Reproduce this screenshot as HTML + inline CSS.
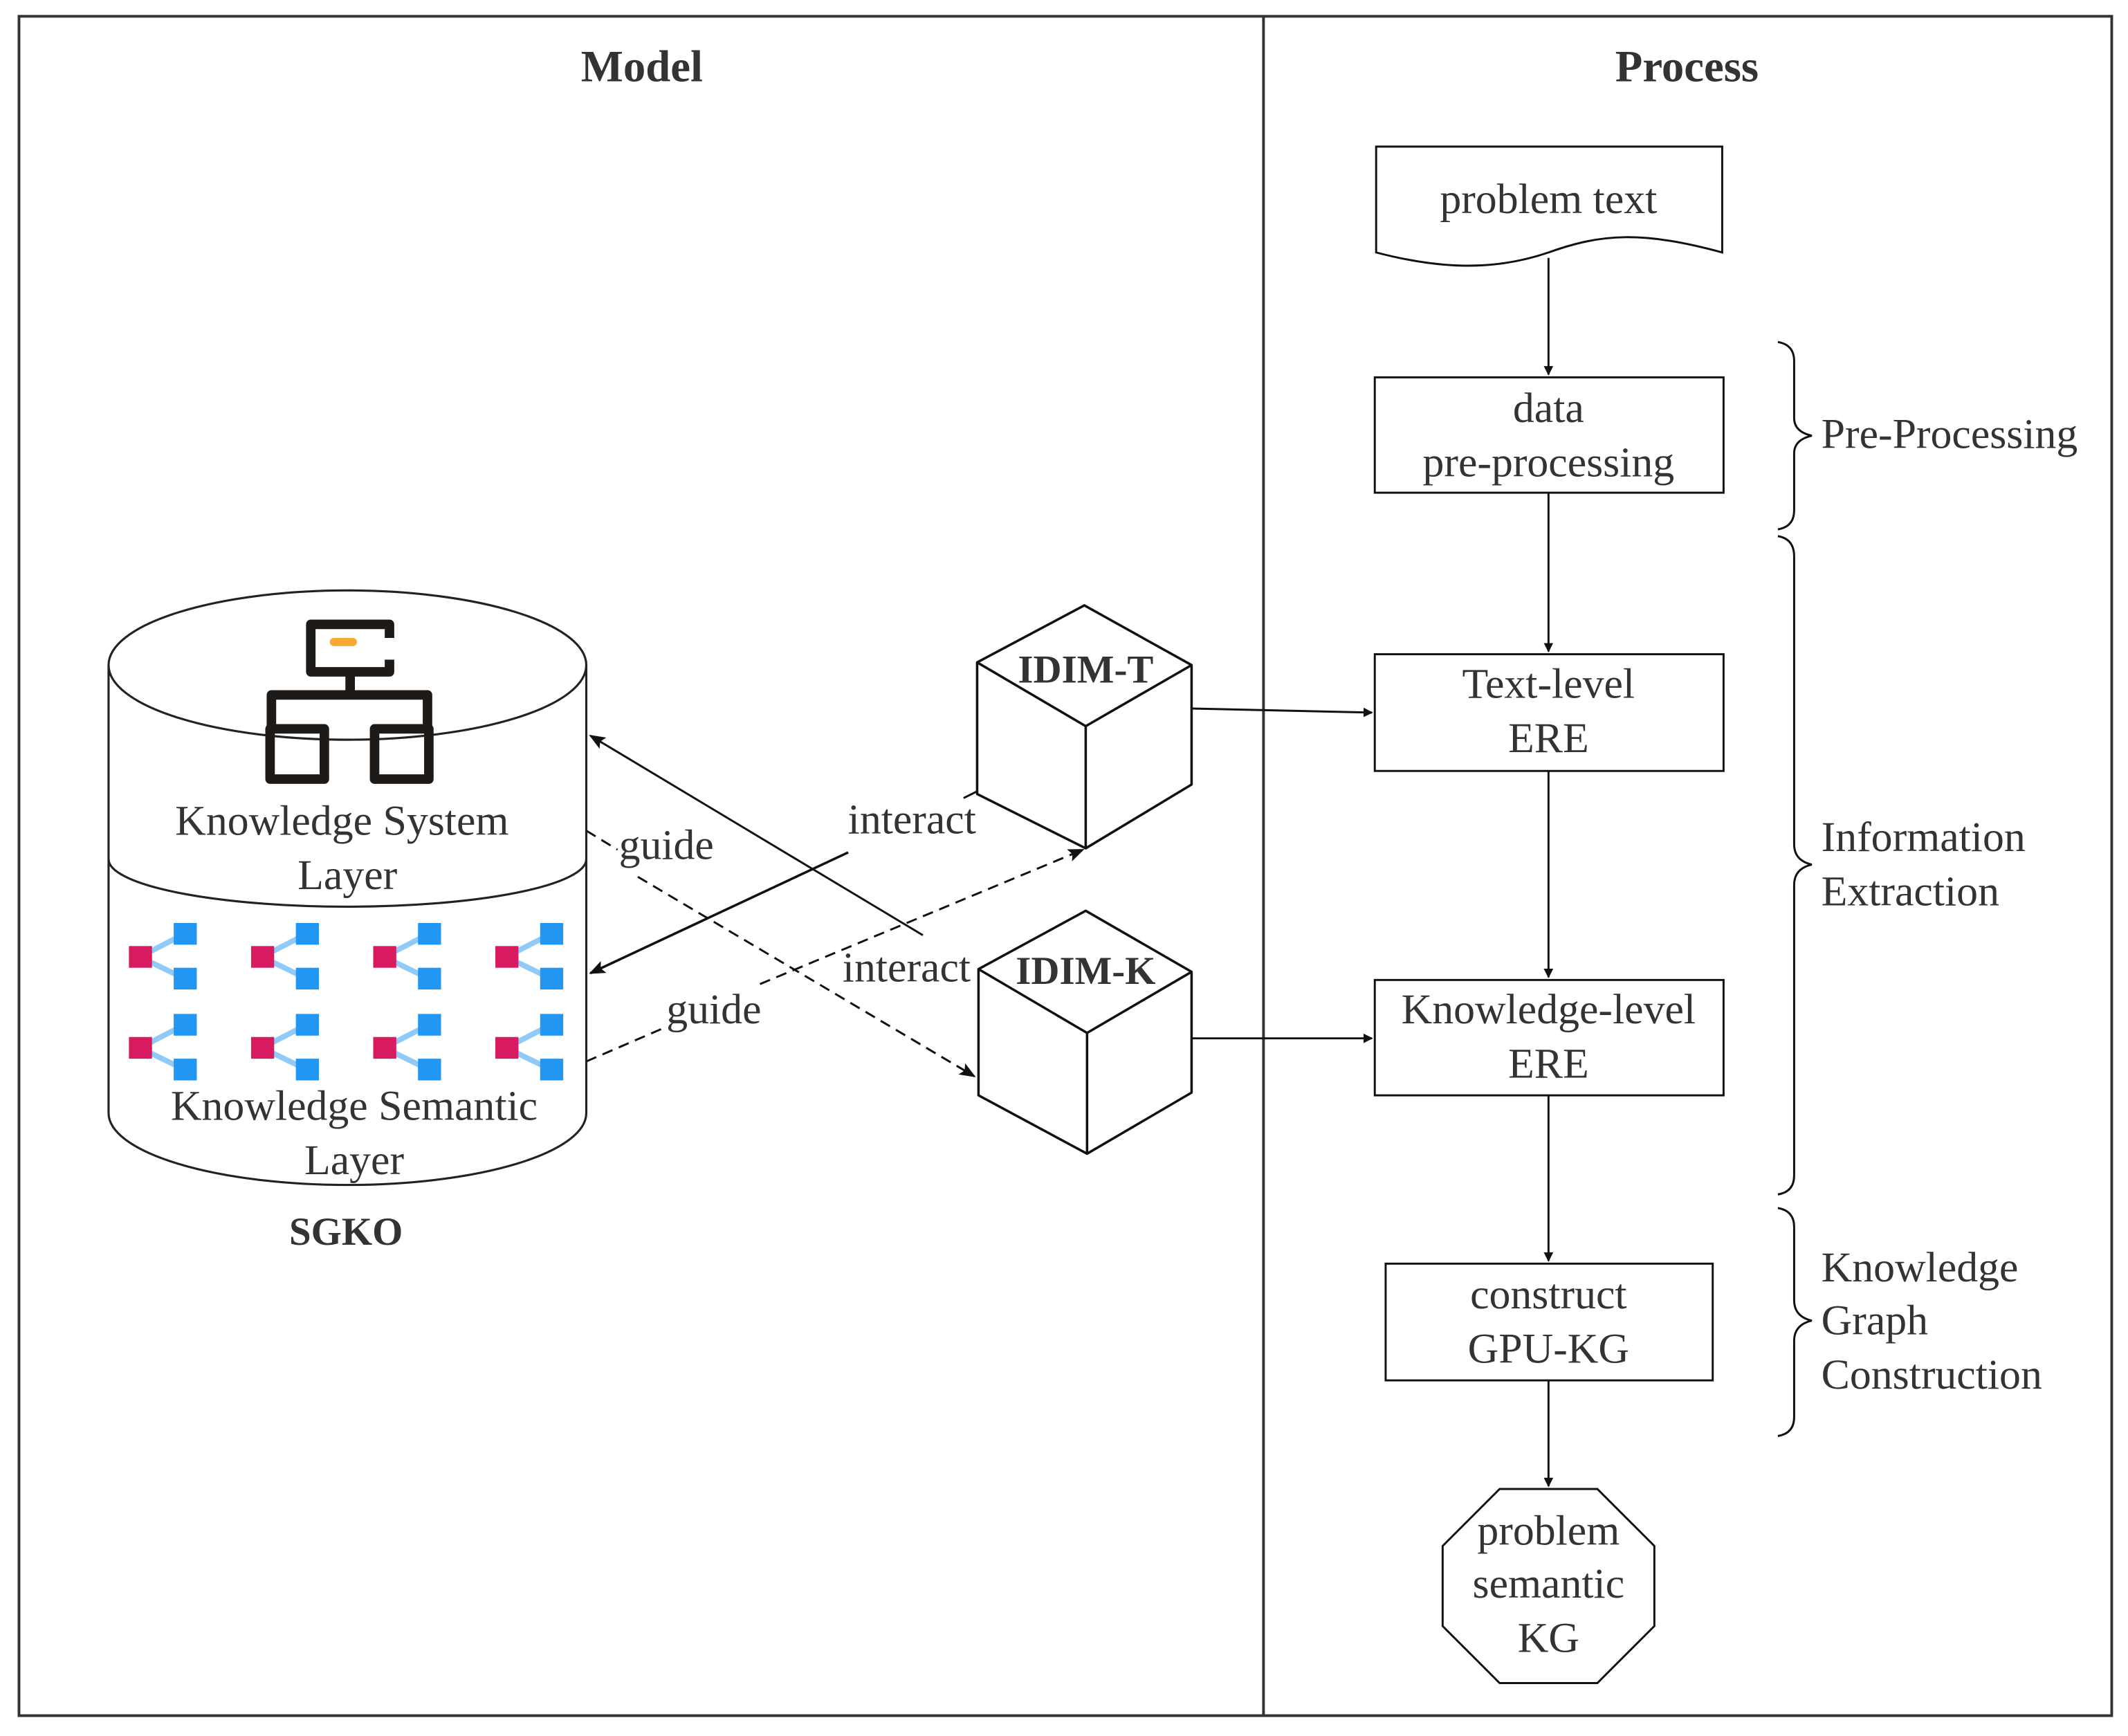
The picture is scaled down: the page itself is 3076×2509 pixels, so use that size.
<!DOCTYPE html>
<html><head><meta charset="utf-8"><style>
html,body{margin:0;padding:0;background:#fff;}
svg{display:block;}
svg text{font-family:"Liberation Serif","DejaVu Serif","Times New Roman",serif;fill:#333;}
</style></head><body>
<svg width="3076" height="2509" viewBox="0 0 1568 1279" preserveAspectRatio="none" xmlns="http://www.w3.org/2000/svg" font-family="Liberation Serif, DejaVu Serif, serif">
<defs>
<marker id="a" viewBox="0 0 10 10" refX="9" refY="5" markerWidth="7" markerHeight="7" markerUnits="userSpaceOnUse" orient="auto">
<path d="M0,0 L10,5 L0,10 z" fill="#111"/></marker>
<marker id="b" viewBox="0 0 10 10" refX="9" refY="5" markerWidth="12" markerHeight="12" markerUnits="userSpaceOnUse" orient="auto">
<path d="M0,1 L10,5 L0,9 L2,5 z" fill="#111"/></marker>
</defs>
<rect x="14" y="12" width="1542" height="1252" fill="none" stroke="#333" stroke-width="2"/>
<line x1="931" y1="12" x2="931" y2="1264" stroke="#333" stroke-width="2"/>
<text x="473" y="60" font-size="33" font-weight="bold" text-anchor="middle">Model</text>
<text x="1243" y="60" font-size="33" font-weight="bold" text-anchor="middle">Process</text>

<g fill="none" stroke="#111" stroke-width="1.5">
<path d="M1014,108 H1269 V186 C1210,170 1180,172 1141,186 C1100,200 1060,198 1014,186 Z" fill="#fff"/>
<rect x="1013" y="278" width="257" height="85"/>
<rect x="1013" y="482" width="257" height="86"/>
<rect x="1013" y="722" width="257" height="85"/>
<rect x="1021" y="931" width="241" height="86"/>
<polygon points="1105,1097 1177,1097 1219,1139 1219,1198 1177,1240 1105,1240 1063,1198 1063,1139"/>
<line x1="1141" y1="190" x2="1141" y2="276" marker-end="url(#a)"/>
<line x1="1141" y1="363" x2="1141" y2="480" marker-end="url(#a)"/>
<line x1="1141" y1="568" x2="1141" y2="720" marker-end="url(#a)"/>
<line x1="1141" y1="807" x2="1141" y2="929" marker-end="url(#a)"/>
<line x1="1141" y1="1017" x2="1141" y2="1095" marker-end="url(#a)"/>
<path d="M1310,252 Q1322,254 1322,266 V308 Q1322,318 1335,321 Q1322,324 1322,334 V376 Q1322,388 1310,390"/>
<path d="M1310,395 Q1322,397 1322,410 V622 Q1322,634 1335,637 Q1322,640 1322,652 V866 Q1322,878 1310,880"/>
<path d="M1310,890 Q1322,892 1322,904 V958 Q1322,970 1335,973 Q1322,976 1322,988 V1044 Q1322,1056 1310,1058"/>
</g>
<g font-size="31.5" text-anchor="middle">
<text x="1141" y="157">problem text</text>
<text x="1141" y="311">data</text>
<text x="1141" y="351">pre-processing</text>
<text x="1141" y="514">Text-level</text>
<text x="1141" y="554">ERE</text>
<text x="1141" y="754">Knowledge-level</text>
<text x="1141" y="794">ERE</text>
<text x="1141" y="964">construct</text>
<text x="1141" y="1004">GPU-KG</text>
<text x="1141" y="1138">problem</text>
<text x="1141" y="1177">semantic</text>
<text x="1141" y="1217">KG</text>
</g>
<g font-size="31.5">
<text x="1342" y="330">Pre-Processing</text>
<text x="1342" y="627">Information</text>
<text x="1342" y="667">Extraction</text>
<text x="1342" y="944">Knowledge</text>
<text x="1342" y="983">Graph</text>
<text x="1342" y="1023">Construction</text>
</g>

<g fill="none" stroke="#222" stroke-width="1.6">
<path d="M80,490 V820 A176,53 0 0 0 432,820 V490"/>
<ellipse cx="256" cy="490" rx="176" ry="55"/>
<path d="M80,633 A176,35 0 0 0 432,633"/>
</g>
<g fill="none" stroke="#1e1a17" stroke-width="7" stroke-linejoin="round">
<path d="M287,470 V460 H229 V495 H287 V486"/>
<path d="M258,495 V512 M200,537 V512 H315 V537"/>
<rect x="199" y="537" width="40" height="37"/>
<rect x="276" y="537" width="40" height="37"/>
</g>
<line x1="246" y1="473" x2="260" y2="473" stroke="#f7a832" stroke-width="6" stroke-linecap="round"/>
<g id="t">
<path d="M103,705 L136,688 M103,705 L136,721" stroke="#90caf9" stroke-width="4"/>
<rect x="95" y="697" width="17" height="16" fill="#d81b60"/>
<rect x="128" y="680" width="17" height="16" fill="#2196f3"/>
<rect x="128" y="713" width="17" height="16" fill="#2196f3"/>
</g>
<use href="#t" x="90"/><use href="#t" x="180"/><use href="#t" x="270"/>
<use href="#t" y="67"/><use href="#t" x="90" y="67"/><use href="#t" x="180" y="67"/><use href="#t" x="270" y="67"/>
<g font-size="31.5" text-anchor="middle">
<text x="252" y="615">Knowledge System</text>
<text x="256" y="655">Layer</text>
<text x="261" y="825">Knowledge Semantic</text>
<text x="261" y="865">Layer</text>
</g>
<text x="255" y="917" font-size="29" font-weight="bold" text-anchor="middle">SGKO</text>

<g fill="#fff" stroke="#111" stroke-width="1.8" stroke-linejoin="round">
<path d="M799,446 L878,490 L878,578 L800,625 L720,585 L720,488 Z"/>
<path d="M720,488 L800,535 L878,490 M800,535 V625" fill="none"/>
<path d="M800,671 L878,716 L878,805 L801,850 L721,807 L721,714 Z"/>
<path d="M721,714 L801,761 L878,716 M801,761 V850" fill="none"/>
</g>
<text x="800" y="503" font-size="29" font-weight="bold" text-anchor="middle">IDIM-T</text>
<text x="800" y="725" font-size="29" font-weight="bold" text-anchor="middle">IDIM-K</text>
<g stroke="#111" stroke-width="1.5" fill="none">
<line x1="878" y1="522" x2="1011" y2="525" marker-end="url(#a)"/>
<line x1="878" y1="765" x2="1011" y2="765" marker-end="url(#a)"/>
<line x1="680" y1="689" x2="435" y2="542" marker-end="url(#b)"/>
<line x1="625" y1="628" x2="435" y2="717" marker-end="url(#b)" stroke-width="1.8"/>
<line x1="710" y1="588" x2="720" y2="583"/>
<path d="M432,612 L455,626 M470,646 L718,793" stroke-dasharray="8,5" marker-end="url(#b)"/>
<path d="M432,782 L490,757 M560,725 L798,626" stroke-dasharray="8,5" marker-end="url(#b)"/>
</g>
<g font-size="31.5" text-anchor="middle">
<text x="672" y="614">interact</text>
<text x="668" y="723">interact</text>
<text x="491" y="633">guide</text>
<text x="526" y="754">guide</text>
</g>
</svg>
</body></html>
